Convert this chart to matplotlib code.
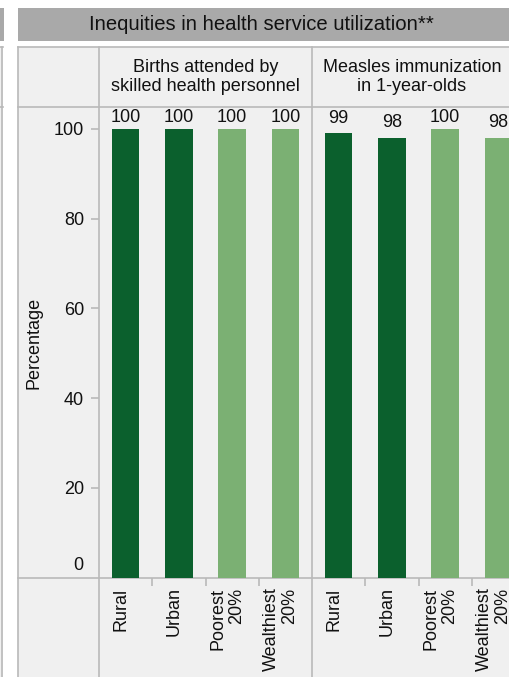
import matplotlib.pyplot as plt
from matplotlib.lines import Line2D
from matplotlib.patches import Rectangle
import matplotlib.transforms as mtransforms

plt.rcParams['font.family'] = ['Liberation Sans', 'DejaVu Sans']

# data
title = 'Inequities in health service utilization**'
panels = ['Births attended by\nskilled health personnel',
          'Measles immunization\nin 1-year-olds']
groups = ['Rural', 'Urban', 'Poorest\n20%', 'Wealthiest\n20%']
births = [100, 100, 100, 100]
measles = [99, 98, 100, 98]
yticks = [0, 20, 40, 60, 80, 100]

DARK = '#0b602d'
LIGHT = '#7bb073'
BG = '#f0f0f0'
HEAD = '#a9a9a9'
LINE = '#b9b9b9'
TXT = '#111111'
FS = 13
bar_colors = [DARK, DARK, LIGHT, LIGHT]

W, H = 510, 677
fig = plt.figure(figsize=(W / 100, H / 100), dpi=100)
fig.patch.set_facecolor('white')


def fx(x):
    return x / W


def fy(y):
    return 1 - y / H


def rect(x0, y0, x1, y1, color):
    fig.add_artist(Rectangle((fx(x0), fy(y1)), (x1 - x0) / W, (y1 - y0) / H,
                             color=color, lw=0, zorder=-5))


def hline(x0, x1, y, lw=1.2):
    fig.add_artist(Line2D([fx(x0), fx(x1)], [fy(y), fy(y)], color=LINE, lw=lw, zorder=-1))


def vline(x, y0, y1, lw=1.2):
    fig.add_artist(Line2D([fx(x), fx(x)], [fy(y0), fy(y1)], color=LINE, lw=lw, zorder=-1))


# background pieces
rect(0, 8, 4, 41, HEAD)
rect(0, 47, 3, H, BG)
rect(18, 8, W, 41, HEAD)
rect(18, 47, W, H, BG)
vline(2.5, 47, H)
hline(0, 3, 47)
hline(0, 3, 107)

fig.text(fx(261), fy(25), title, ha='center', va='center', fontsize=14.6, color=TXT)

# table lines
hline(18, W + 5, 47)
hline(18, W + 5, 107)
hline(18, W + 5, 578)
vline(18, 47, H)
vline(99, 47, H)
vline(312, 47, H)

fig.text(fx(205.5), fy(77), panels[0], ha='center', va='center', fontsize=FS,
         linespacing=1.15, color=TXT)
fig.text(fx(412), fy(77), panels[1], ha='center', va='center', fontsize=FS,
         linespacing=1.15, color=TXT)

ytop = 100 + (129 - 107) / 4.4875
axes = []
for left, vals in [(99, births), (312, measles)]:
    ax = fig.add_axes([fx(left), fy(577.5), 213 / W, (577.5 - 107) / H])
    ax.patch.set_visible(False)
    for s in ax.spines.values():
        s.set_visible(False)
    ax.bar(range(len(groups)), vals, width=0.52, color=bar_colors, zorder=2)
    ax.set_xlim(-0.5, len(groups) - 0.5)
    ax.set_ylim(0, ytop)
    ax.set_xticks([0.5, 1.5, 2.5])
    ax.set_xticklabels([])
    ax.tick_params(axis='x', length=5.8, width=1.2, color=LINE)
    ax.set_yticks([])
    for i, v in enumerate(vals):
        ax.text(i, min(v + 1.5, 100.6), str(v), ha='center', va='bottom',
                fontsize=FS, color=TXT)
    off = mtransforms.ScaledTranslation(-4.5 / 100, -10 / 100, fig.dpi_scale_trans)
    for i, g in enumerate(groups):
        ax.text(i, 0, g, rotation=90, ha='center', va='top', multialignment='right',
                fontsize=FS, linespacing=1.1, color=TXT,
                transform=ax.transData + off, clip_on=False)
    axes.append(ax)

ax1 = axes[0]
ax1.set_yticks(yticks[1:])
ax1.tick_params(axis='y', length=5.8, width=1.2, color=LINE, pad=5,
                labelsize=FS, labelcolor=TXT)
zoff = mtransforms.ScaledTranslation(-16 / 100, 12 / 100, fig.dpi_scale_trans)
ax1.text(0, 0, str(yticks[0]), ha='right', va='center', fontsize=FS, color=TXT,
         transform=ax1.get_yaxis_transform() + zoff, clip_on=False)
fig.text(fx(33.5), fy(343), 'Percentage', rotation=90, ha='center', va='center',
         fontsize=FS, color=TXT)

fig.savefig('out.png', dpi=100)
